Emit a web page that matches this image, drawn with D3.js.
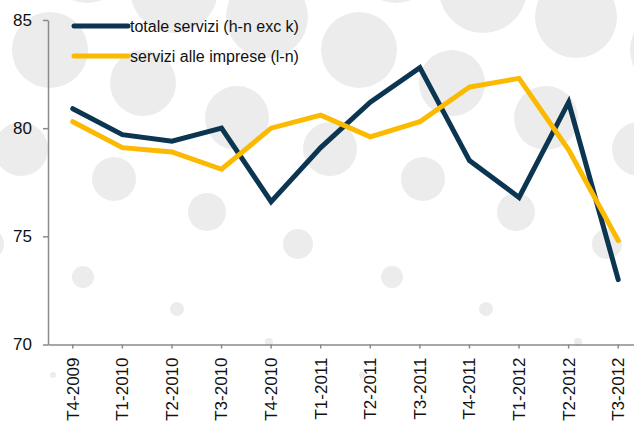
<!DOCTYPE html>
<html>
<head>
<meta charset="utf-8">
<script src="https://cdn.jsdelivr.net/npm/d3@7"></script>
<style>
    body { margin: 0; background: #fff; }
    svg { display: block; font-family: "Liberation Sans", Arial, sans-serif; }
    .axis path, .axis line { stroke: #8a8a8a; stroke-width: 1.5; }
    .axis text { fill: #111; font-size: 17px; }
    .legend text { fill: #111; font-size: 16px; }
</style>
</head>
<body>
<svg id="chart" width="634" height="424"></svg>
<script>
const quarters = ['T4-2009', 'T1-2010', 'T2-2010', 'T3-2010', 'T4-2010', 'T1-2011',
    'T2-2011', 'T3-2011', 'T4-2011', 'T1-2012', 'T2-2012', 'T3-2012'];
const totaleServizi = [80.9, 79.7, 79.4, 80.0, 76.6, 79.1, 81.2, 82.8, 78.5, 76.8, 81.2, 73.0];
const serviziImprese = [80.3, 79.1, 78.9, 78.1, 80.0, 80.6, 79.6, 80.3, 81.9, 82.3, 79.0, 74.8];
const yTicks = [70, 75, 80, 85];
const seriesNames = ['totale servizi (h-n exc k)', 'servizi alle imprese (l-n)'];
const seriesColors = ['#0b3550', '#fbb900'];

// grey dots of the background, one tile (repeats every 309px)
const dotTile = [[50, 50, 38], [143, 83, 33], [237, 118, 32], [114, 179, 22], [207, 212, 19],
    [83, 277, 11], [177, 309, 7], [298, 244, 15], [53, 375, 3], [269, 342, 4],
    [174, -11, 44], [267, 17, 41], [21, 149, 27], [87, -36, 39]];

function drawChart() {
    const svg = d3.select('#chart');
    const width = 634;

    const dots = [];
    [-1, 0, 1, 2].forEach(k => dotTile.forEach(d => dots.push([d[0] + k * 309, d[1], d[2]])));
    svg.append('g')
        .selectAll('circle')
        .data(dots)
        .enter()
        .append('circle')
        .attr('cx', d => d[0])
        .attr('cy', d => d[1])
        .attr('r', d => d[2])
        .attr('fill', '#ececec');

    const xScale = d3.scaleBand()
        .domain(quarters)
        .range([48, 643])
        .padding(0);

    const yScale = d3.scaleLinear()
        .domain([70, 85])
        .range([344.5, 20]);

    svg.append('g')
        .attr('class', 'axis')
        .attr('transform', 'translate(0, 344.5)')
        .call(d3.axisBottom(xScale).tickSize(4).tickSizeOuter(0))
        .selectAll('text')
        .attr('transform', 'rotate(-90)')
        .attr('text-anchor', 'end')
        .attr('x', -13)
        .attr('y', 0)
        .attr('dy', '0.35em');

    svg.append('g')
        .attr('class', 'axis')
        .attr('transform', 'translate(48, 0)')
        .call(d3.axisLeft(yScale).tickValues(yTicks).tickSize(5).tickPadding(11).tickSizeOuter(0));

    const line = d3.line()
        .x((d, i) => xScale(quarters[i]) + xScale.bandwidth() / 2)
        .y(d => yScale(d));

    [totaleServizi, serviziImprese].forEach((values, i) => {
        svg.append('path')
            .datum(values)
            .attr('d', line)
            .attr('fill', 'none')
            .attr('stroke', seriesColors[i])
            .attr('stroke-width', 5)
            .attr('stroke-linecap', 'round')
            .attr('stroke-linejoin', 'miter');
    });

    const legend = svg.append('g').attr('class', 'legend');
    seriesNames.forEach((name, i) => {
        const y = 26 + i * 30;
        legend.append('line')
            .attr('x1', 74)
            .attr('x2', 128)
            .attr('y1', y)
            .attr('y2', y)
            .attr('stroke', seriesColors[i])
            .attr('stroke-width', 5)
            .attr('stroke-linecap', 'round');
        legend.append('text')
            .attr('x', 130)
            .attr('y', y)
            .attr('dy', '0.35em')
            .text(name);
    });
}

drawChart();
</script>
</body>
</html>
